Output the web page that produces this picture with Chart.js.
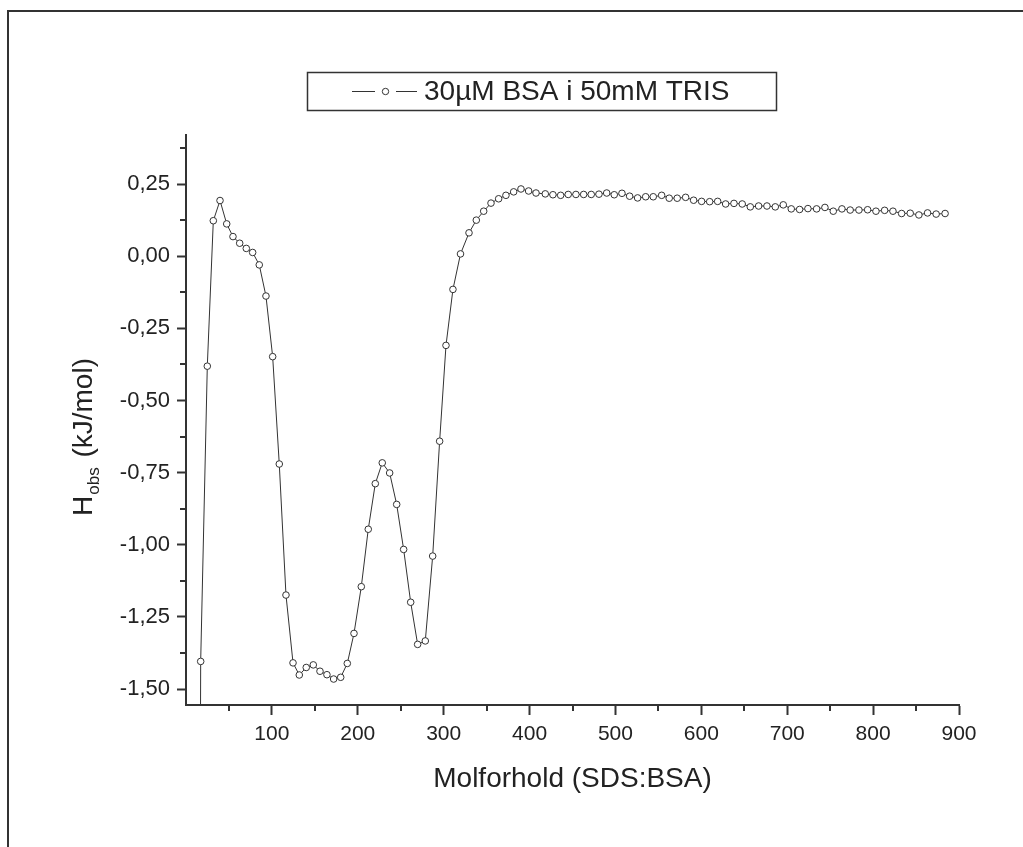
<!DOCTYPE html>
<html><head><meta charset="utf-8">
<script src="https://cdn.jsdelivr.net/npm/chart.js@4.4.1/dist/chart.umd.min.js"></script>
<style>
html,body{margin:0;padding:0;background:#fff;}
#wrap{position:relative;width:1023px;height:847px;overflow:hidden;}
#frame{position:absolute;left:7px;top:10px;width:1100px;height:900px;border-top:2px solid #333;border-left:2px solid #333;}
canvas{position:absolute;left:0;top:0;}
</style></head><body>
<div id="wrap"><div id="frame"></div><canvas id="c" width="1023" height="847"></canvas></div>
<script>
const seriesLabel = '30\u00B5M BSA i 50mM TRIS';
const xTitle = 'Molforhold (SDS:BSA)';
const yTitleMain = 'H';
const yTitleSub = 'obs';
const yTitleUnit = '(kJ/mol)';

const molRatio = [9.4, 17.1, 24.8, 31.8, 39.6, 47.4, 54.7, 62.5, 70.2, 77.6, 85.3, 93.1, 100.9, 108.6, 116.4, 124.6, 131.9, 140.0, 148.2, 156.0, 164.1, 171.9, 180.1, 187.8, 195.6, 204.1, 212.2, 220.4, 228.5, 237.1, 245.3, 253.4, 261.6, 269.7, 278.6, 287.2, 295.3, 302.7, 310.8, 319.6, 329.5, 338.0, 346.6, 355.1, 364.0, 372.5, 381.5, 390.0, 398.9, 407.5, 418.3, 427.2, 436.2, 445.0, 454.0, 463.0, 471.8, 480.8, 489.8, 498.6, 507.6, 516.5, 525.8, 535.2, 544.0, 553.8, 562.6, 571.9, 581.7, 591.0, 600.3, 609.7, 619.0, 628.3, 638.0, 647.6, 657.0, 666.7, 676.4, 686.1, 695.4, 704.7, 714.4, 724.1, 734.2, 743.9, 753.6, 763.7, 773.3, 783.5, 793.6, 803.3, 813.4, 823.1, 833.2, 843.2, 853.3, 863.4, 873.4, 883.8];

const heat = [-8.0, -1.404, -0.381, 0.123, 0.193, 0.112, 0.068, 0.045, 0.027, 0.013, -0.030, -0.138, -0.348, -0.720, -1.174, -1.409, -1.451, -1.425, -1.416, -1.438, -1.450, -1.465, -1.459, -1.411, -1.307, -1.145, -0.946, -0.788, -0.716, -0.751, -0.860, -1.016, -1.199, -1.345, -1.333, -1.039, -0.641, -0.309, -0.115, 0.008, 0.081, 0.125, 0.156, 0.184, 0.199, 0.211, 0.223, 0.233, 0.226, 0.219, 0.216, 0.213, 0.211, 0.214, 0.214, 0.214, 0.214, 0.215, 0.219, 0.213, 0.218, 0.208, 0.202, 0.206, 0.206, 0.211, 0.201, 0.201, 0.204, 0.194, 0.190, 0.189, 0.190, 0.181, 0.183, 0.181, 0.171, 0.174, 0.174, 0.171, 0.178, 0.164, 0.162, 0.165, 0.164, 0.169, 0.156, 0.164, 0.160, 0.160, 0.161, 0.156, 0.159, 0.156, 0.148, 0.149, 0.143, 0.150, 0.146, 0.148];

const xTicks = [100, 200, 300, 400, 500, 600, 700, 800, 900];
const xMinorTicks = [50, 150, 250, 350, 450, 550, 650, 750, 850];
const yTicks = [-1.5, -1.25, -1.0, -0.75, -0.5, -0.25, 0.0, 0.25];
const yMinorTicks = [-1.375, -1.125, -0.875, -0.625, -0.375, -0.125, 0.125, 0.375];

const INK = '#333';
const TXT = '#222';
const FONT = "'Liberation Sans', Arial, Helvetica, sans-serif";

const decor = {
  id: 'decor',
  afterDraw(chart) {
    const ctx = chart.ctx;
    const xs = chart.scales.x, ys = chart.scales.y;
    const area = chart.chartArea;
    ctx.save();
    // minor ticks
    ctx.strokeStyle = INK; ctx.lineWidth = 2;
    ctx.beginPath();
    xMinorTicks.forEach(v => { const p = Math.round(xs.getPixelForValue(v)); ctx.moveTo(p, area.bottom); ctx.lineTo(p, area.bottom + 6); });
    yMinorTicks.forEach(v => { const p = Math.round(ys.getPixelForValue(v)); ctx.moveTo(area.left, p); ctx.lineTo(area.left - 6, p); });
    ctx.stroke();
    // x title
    ctx.fillStyle = TXT;
    ctx.font = '28px ' + FONT;
    ctx.textAlign = 'center'; ctx.textBaseline = 'alphabetic';
    ctx.fillText(xTitle, (area.left + area.right) / 2, 787);
    // y title (rotated)
    ctx.save();
    ctx.translate(92, 516);
    ctx.rotate(-Math.PI / 2);
    ctx.textAlign = 'left';
    ctx.font = '28px ' + FONT;
    ctx.fillText(yTitleMain, 0, 0);
    let w = ctx.measureText(yTitleMain).width;
    ctx.font = '17px ' + FONT;
    ctx.fillText(yTitleSub, w + 1, 7);
    w += 1 + ctx.measureText(yTitleSub).width;
    ctx.font = '28px ' + FONT;
    ctx.fillText(' ' + yTitleUnit, w + 2, 0);
    ctx.restore();
    // legend
    const lx = 307, ly = 72, lw = 469, lh = 38;
    ctx.lineWidth = 1.5; ctx.strokeStyle = INK;
    ctx.strokeRect(lx + 0.5, ly + 0.5, lw, lh);
    const cy = ly + lh / 2 + 0.5;
    ctx.lineWidth = 1;
    ctx.beginPath();
    ctx.moveTo(352, cy); ctx.lineTo(375, cy);
    ctx.moveTo(396, cy); ctx.lineTo(417, cy);
    ctx.stroke();
    ctx.beginPath(); ctx.arc(385.5, cy, 3.2, 0, Math.PI * 2);
    ctx.fillStyle = '#fff'; ctx.fill(); ctx.stroke();
    ctx.fillStyle = TXT;
    ctx.font = '28px ' + FONT;
    ctx.textAlign = 'left'; ctx.textBaseline = 'middle';
    ctx.fillText(seriesLabel, 424, cy + 1);
    ctx.restore();
  }
};

new Chart(document.getElementById('c'), {
  type: 'line',
  data: {
    datasets: [{
      label: seriesLabel,
      data: molRatio.map((x, i) => ({ x: x, y: heat[i] })),
      borderColor: INK,
      borderWidth: 1,
      tension: 0,
      pointRadius: 3.3,
      pointBorderWidth: 1,
      pointBorderColor: INK,
      pointBackgroundColor: '#fff',
      fill: false
    }]
  },
  options: {
    responsive: false,
    animation: false,
    devicePixelRatio: 1,
    layout: { padding: { left: 0, top: 135, right: 64, bottom: 0 } },
    plugins: { legend: { display: false }, tooltip: { enabled: false } },
    scales: {
      x: {
        type: 'linear', min: 0, max: 900,
        afterBuildTicks: a => { a.ticks = xTicks.map(v => ({ value: v })); },
        afterFit: a => { a.height = 142; },
        border: { color: INK, width: 2 },
        grid: { drawOnChartArea: false, drawTicks: true, tickLength: 10, color: INK, tickWidth: 2 },
        ticks: { color: TXT, font: { family: FONT, size: 21 }, padding: 7, maxRotation: 0, autoSkip: false }
      },
      y: {
        type: 'linear', min: -1.555, max: 0.42,
        afterBuildTicks: a => { a.ticks = yTicks.map(v => ({ value: v })); },
        afterFit: a => { a.width = 186; },
        border: { color: INK, width: 2 },
        grid: { drawOnChartArea: false, drawTicks: true, tickLength: 9, color: INK, tickWidth: 2 },
        ticks: {
          color: TXT, font: { family: FONT, size: 22 }, padding: 7, autoSkip: false,
          callback: v => v.toFixed(2).replace('.', ',')
        }
      }
    }
  },
  plugins: [decor]
});
</script>
</body></html>
